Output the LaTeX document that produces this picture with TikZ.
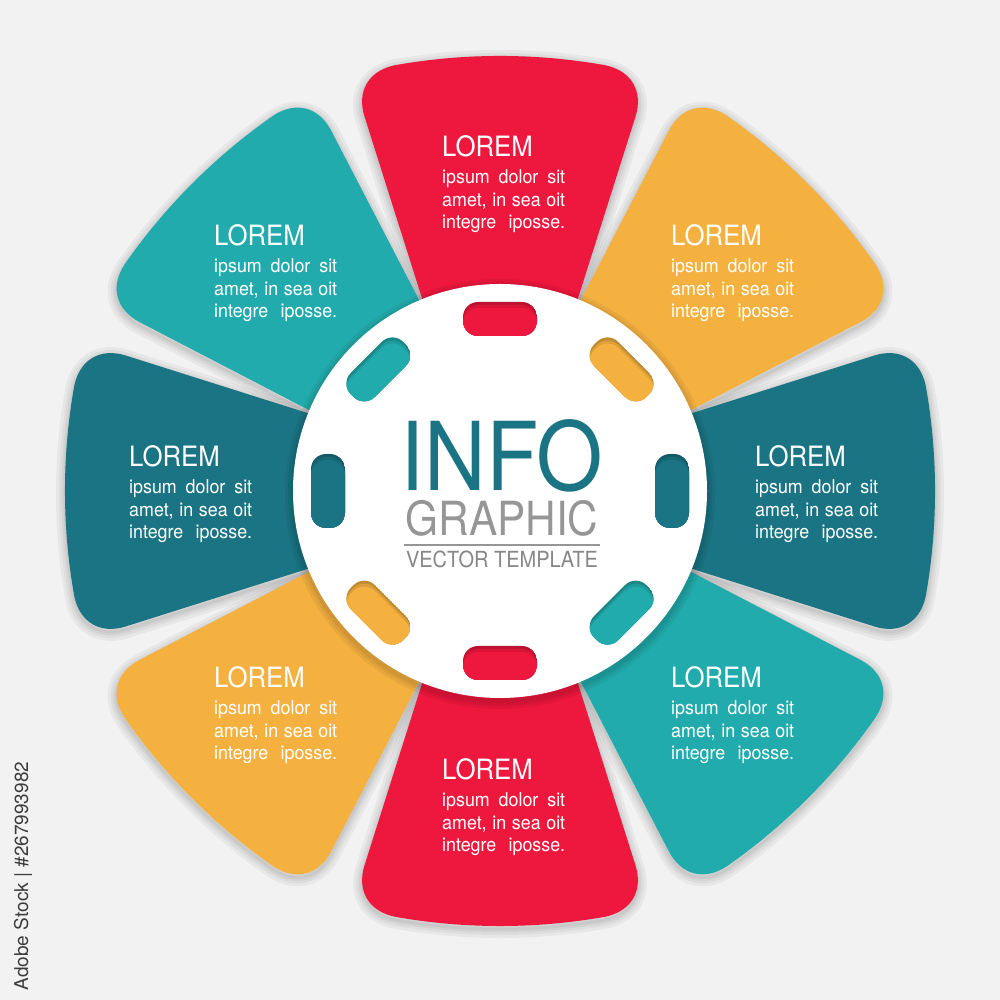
\documentclass[tikz,border=0pt]{standalone}
\usepackage{fontspec}
\newfontfamily\heros[FakeStretch=0.92]{TeX Gyre Heros}
\newfontfamily\herosb[FakeStretch=0.94]{TeX Gyre Heros}
\newfontfamily\herosc[FakeStretch=0.9]{TeX Gyre Heros}
\newfontfamily\herosn{TeX Gyre Heros}
\definecolor{pred}{RGB}{238,23,61}
\definecolor{pyel}{RGB}{245,177,64}
\definecolor{pdark}{RGB}{26,116,131}
\definecolor{pteal}{RGB}{34,171,172}
\definecolor{bgc}{RGB}{242,242,242}
\definecolor{ginfo}{RGB}{26,116,131}
\definecolor{ggray}{RGB}{150,150,150}
\definecolor{gvec}{RGB}{135,135,135}
\definecolor{wmark}{RGB}{60,60,60}
\newcommand\petalpath{(-55,120) -- (-135.4,374.1) .. controls (-143.6,399.8) and (-131.3,420.5) .. (-104.8,425.8) arc[start angle=100.06, end angle=79.94, radius=600pt] .. controls (131.3,420.5) and (143.6,399.8) .. (135.4,374.1) -- (55,120) -- cycle}
\newcommand\slotpath{(463,664) rectangle (537,698)}
\newcommand\ptext[3]{%
  \node[lorem] (#1L) at (#2,#3) {LOREM};
  \node[bodytxt] (#1B) at (#2,#3-27) {\parbox[t]{123pt}{\fontsize{19pt}{22.5pt}\selectfont
    \makebox[123pt][s]{ipsum dolor sit}\\
    \makebox[123pt][s]{amet, in sea oit}\\
    \makebox[123pt][s]{integre iposse.}}};}
\begin{document}
\begin{tikzpicture}[x=1pt,y=1pt,
  lorem/.style={anchor=base west, inner sep=0pt, text=white, font=\heros\fontsize{28pt}{28pt}\selectfont},
  bodytxt/.style={anchor=base west, inner sep=0pt, text=white, font=\herosb},
  slotshape/.style={rounded corners=15pt}]
\useasboundingbox (0,0) rectangle (1000,1000);
\fill[bgc] (0,0) rectangle (1000,1000);
% petal shadows
\foreach \ang in {90,45,0,-45,-90,225,180,135}{
  \begin{scope}[yshift=-3pt, shift={(500,509)}, rotate=\ang-90]
    \foreach \w in {18,12,7,3}{\draw[black, opacity=0.045, line width=\w pt, line join=round] \petalpath;}
  \end{scope}
}
% petals
\foreach \ang/\col in {90/pred,45/pyel,0/pdark,-45/pteal,-90/pred,225/pyel,180/pdark,135/pteal}{
  \fill[\col, shift={(500,509)}, rotate=\ang-90] \petalpath;
}
% hub shadow and hub
\foreach \w in {16,10,5}{\draw[black, opacity=0.05, line width=\w pt] (500,506) circle[radius=207pt];}
\node[circle, fill=white, minimum size=414pt, inner sep=0pt] (hub) at (500,509) {};
% slots
\foreach \ang/\col in {90/pred,45/pyel,0/pdark,-45/pteal,-90/pred,225/pyel,180/pdark,135/pteal}{
  \begin{scope}
    \clip[slotshape, rotate around={\ang-90:(500,509)}] \slotpath;
    \fill[\col!78!black, slotshape, rotate around={\ang-90:(500,509)}] \slotpath;
    \fill[\col!90!black, slotshape, yshift=-3pt, rotate around={\ang-90:(500,509)}] \slotpath;
    \fill[\col, slotshape, yshift=-6pt, rotate around={\ang-90:(500,509)}] \slotpath;
  \end{scope}
}
% petal texts
\ptext{t}{442}{843}
\ptext{ur}{671}{754}
\ptext{ul}{214}{754}
\ptext{l}{129}{533}
\ptext{r}{755}{533}
\ptext{ll}{214}{312}
\ptext{lr}{671}{312}
\ptext{b}{442}{220}
% centre text
\node[anchor=base, inner sep=0pt, text=ginfo, font=\herosc\fontsize{95pt}{95pt}\selectfont] (info) at (502,509) {INFO};
\node[anchor=base, inner sep=0pt, text=ggray, font=\herosc\fontsize{47pt}{47pt}\selectfont] (graphic) at (502,464) {GRAPHIC};
\coordinate (rl) at (404,455);
\coordinate (rr) at (600,455);
\draw[ggray, line width=2pt] (rl) -- (rr);
\node[anchor=base, inner sep=0pt, text=gvec, font=\herosc\fontsize{22.2pt}{22.2pt}\selectfont] (vector) at (502,432) {VECTOR TEMPLATE};
% side mark
\node[rotate=90, inner sep=0pt, text=wmark, font=\herosn\fontsize{19pt}{19pt}\selectfont] (wm) at (23,124) {Adobe Stock | \#267993982};
\end{tikzpicture}
\end{document}
